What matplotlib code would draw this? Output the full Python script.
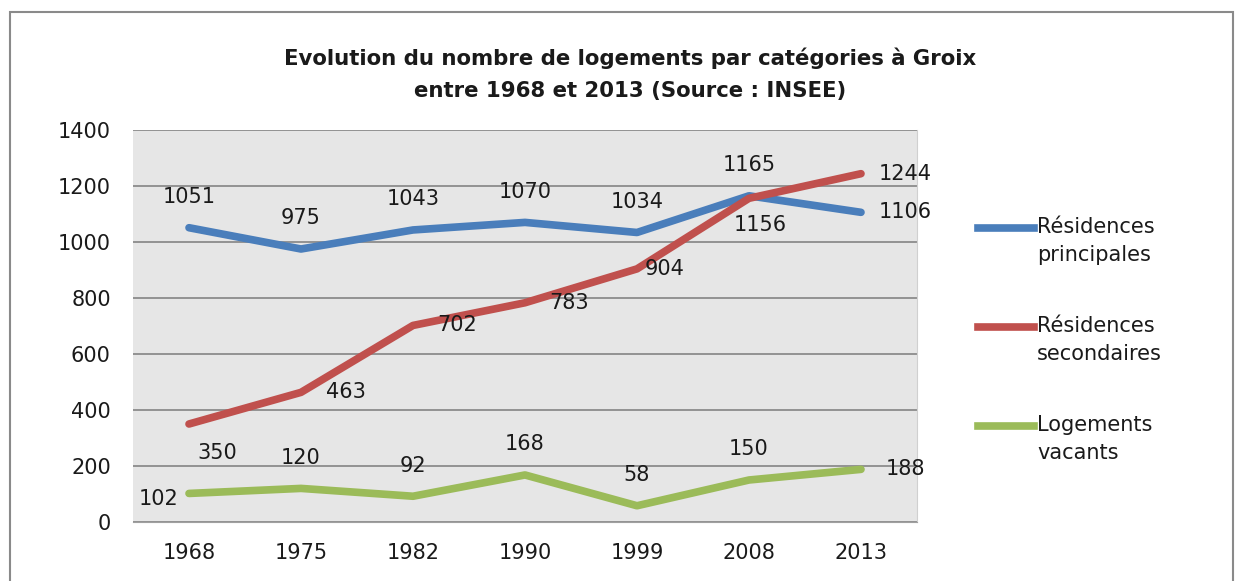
import matplotlib
matplotlib.use("Agg")
import matplotlib.pyplot as plt
from matplotlib.lines import Line2D
from matplotlib.patches import Rectangle

years = ["1968", "1975", "1982", "1990", "1999", "2008", "2013"]
principales = [1051, 975, 1043, 1070, 1034, 1165, 1106]
secondaires = [350, 463, 702, 783, 904, 1156, 1244]
vacants = [102, 120, 92, 168, 58, 150, 188]
series_names = ["Résidences\nprincipales", "Résidences\nsecondaires", "Logements\nvacants"]
title_text = "Evolution du nombre de logements par catégories à Groix\nentre 1968 et 2013 (Source : INSEE)"

colors = ["#4A7EBB", "#C0504D", "#9BBB59"]
label_pos = [
    ["above"] * 6 + ["right"],
    ["belowright", "right", "right", "right", "rightnear", "below", "right"],
    ["left", "above", "above", "above", "above", "above", "right"],
]
offsets = {"above": (0, 22), "below": (8, -19), "right": (32, 0), "rightnear": (20, 0),
           "left": (-22, -4), "belowright": (20, -21)}

FONT = "DejaVu Sans"
plt.rcParams["font.family"] = FONT

fig = plt.figure(figsize=(12.37, 5.81), dpi=100)
fig.patch.set_facecolor("white")
fig.patches.append(Rectangle((10 / 1237, -0.1), (1233 - 10) / 1237, 1.1 - 12 / 581,
                             transform=fig.transFigure, fill=False,
                             edgecolor="#8a8a8a", linewidth=1.5))

ax = fig.add_axes([133 / 1237, 1 - 522 / 581, (917 - 133) / 1237, (522 - 130) / 581])
ax.set_facecolor("#E6E6E6")
x = list(range(len(years)))
all_series = [principales, secondaires, vacants]
for vals, c, pos in zip(all_series, colors, label_pos):
    ax.plot(x, vals, color=c, linewidth=5.5, solid_capstyle="round", solid_joinstyle="round", zorder=3)
    for xi, v, p in zip(x, vals, pos):
        dx, dy = offsets[p]
        ax.annotate(str(v), (xi, v), xytext=(dx, dy), textcoords="offset points",
                    ha="center", va="center", fontsize=15, color="#1a1a1a", zorder=4)

ax.set_xlim(-0.5, len(years) - 0.5)
ax.set_ylim(0, 1400)
ax.set_yticks(range(0, 1401, 200))
ax.set_xticks(x)
ax.set_xticklabels(years)
ax.yaxis.grid(True, color="#8c8c8c", linewidth=1.3)
ax.set_axisbelow(True)
ax.tick_params(axis="both", length=0, labelsize=15, colors="#1a1a1a")
ax.tick_params(axis="y", pad=16)
ax.tick_params(axis="x", pad=15)
for s in ["left", "top"]:
    ax.spines[s].set_visible(False)
ax.spines["bottom"].set_color("#a0a0a0")
ax.spines["right"].set_color("#d0d0d0")

fig.text(630 / 1237, 1 - 74 / 581, title_text, ha="center", va="center",
         fontsize=15.3, fontweight="bold", linespacing=1.75, color="#1a1a1a")

leg_y = [228, 327, 426]
for name, c, yy in zip(series_names, colors, leg_y):
    yf = 1 - yy / 581
    fig.add_artist(Line2D([978 / 1237, 1034 / 1237], [yf, yf], color=c, linewidth=5.5,
                          transform=fig.transFigure))
    fig.text(1037 / 1237, 1 - (yy - 11) / 581, name, ha="left", va="top",
             fontsize=15, linespacing=1.5, color="#1a1a1a")

fig.savefig("out.png", dpi=100)
